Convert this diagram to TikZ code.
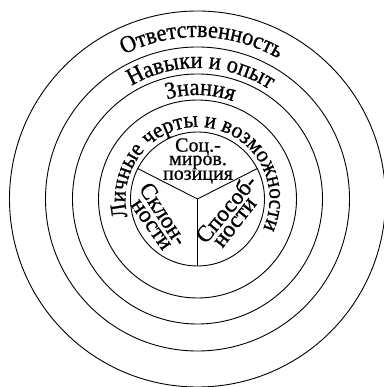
\documentclass[tikz,border=0pt]{standalone}
\usepackage{fontspec}
\setmainfont[FakeBold=0.8]{Liberation Serif}
\newfontfamily\ringfont[FakeStretch=0.93,FakeBold=0.8]{Liberation Serif}
\usetikzlibrary{decorations.text}
\tikzset{
  ring/.style={draw,line width=0.9pt},
  sector/.style={inner sep=0pt,font=\fontsize{#1}{13.5}\selectfont},
}
% text on an arc: radius, middle angle, half span, font size, text
\newcommand{\ringlabel}[5]{%
  \path[decorate,decoration={text along path,text align=center,
      text={|\ringfont\fontsize{#4}{#4}\selectfont|#5}}]
    ({#2+#3}:#1pt) arc[start angle={#2+#3},end angle={#2-#3},radius=#1pt];}

\begin{document}
\begin{tikzpicture}
    \useasboundingbox (-197.5pt,-188pt) rectangle (185.5pt,199pt);
    \coordinate (c) at (0,0);
    % rings
    \foreach \r in {67,99,125,152,188}
      \draw[ring] (c) circle[radius=\r pt];
    % core split in three
    \foreach \a in {153,27,270}
      \draw[ring] (c) -- (\a:67pt);
    % ring labels
    \ringlabel{162}{88.5}{80}{24}{Ответственность}
    \ringlabel{131}{88.5}{80}{24}{Навыки и опыт}
    \ringlabel{104}{88.5}{80}{24}{Знания}
    \ringlabel{72}{85}{115}{23}{Личные черты и возможности}
    % core
    \node[sector=20,align=center] (soc) at (0.5pt,38pt) {Соц.-\\миров.\\позиция};
    \node[sector=23,rotate=-57] (sklon) at (-33.8pt,-14.8pt) {Склон-};
    \node[sector=23,rotate=-55] (sklonb) at (-46.7pt,-26pt) {ности};
    \node[sector=23,rotate=50] (sposob) at (28pt,-9.5pt) {Способ-};
    \node[sector=23,rotate=52] (sposobb) at (38.2pt,-24pt) {ности};
\end{tikzpicture}
\end{document}
